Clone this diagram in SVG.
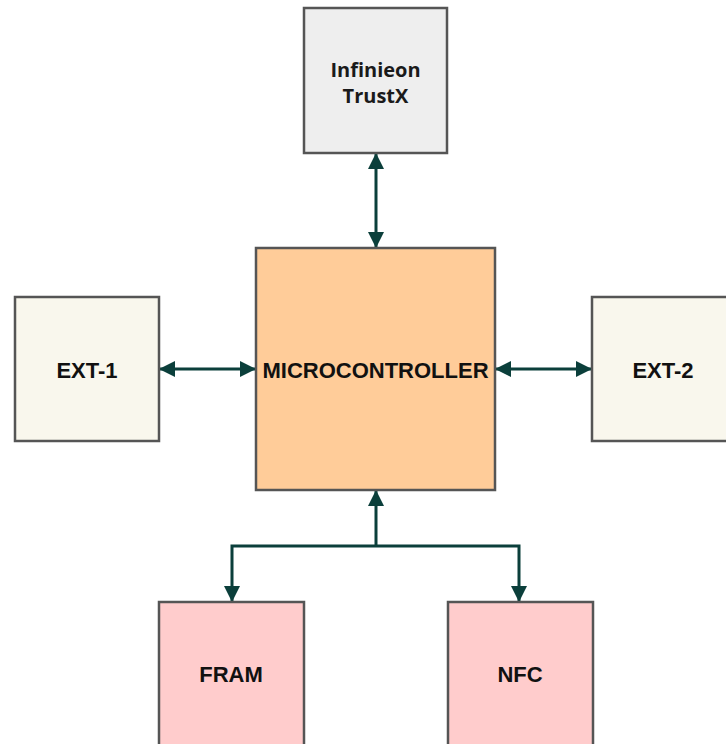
<svg xmlns="http://www.w3.org/2000/svg" width="726" height="744" viewBox="0 0 726 744">
  <style>
    .box { stroke: #555555; stroke-width: 2.5; }
    .lbl { font-family: "Liberation Sans", Arial, sans-serif; font-weight: bold; font-size: 22px; fill: #111111; text-anchor: middle; }
    .lbl2 { font-family: "Open Sans", "Liberation Sans", sans-serif; font-weight: 700; font-size: 20px; fill: #1a1a1a; text-anchor: middle; }
    .wire { fill: none; stroke: #0b3f3b; stroke-width: 3; }
  </style>
  <defs>
    <marker id="head" viewBox="0 0 16 16" refX="15" refY="8" markerWidth="16" markerHeight="16" markerUnits="userSpaceOnUse" orient="auto-start-reverse">
      <path d="M0,0 L16,8 L0,16 Z" fill="#0b3f3b"/>
    </marker>
  </defs>

  <rect width="726" height="744" fill="#ffffff"/>

  <g id="connectors">
    <line class="wire" x1="376" y1="154" x2="376" y2="247" marker-start="url(#head)" marker-end="url(#head)"/>
    <line class="wire" x1="160" y1="369" x2="255" y2="369" marker-start="url(#head)" marker-end="url(#head)"/>
    <line class="wire" x1="496" y1="369" x2="591" y2="369" marker-start="url(#head)" marker-end="url(#head)"/>
    <line class="wire" x1="376" y1="546" x2="376" y2="491" marker-end="url(#head)"/>
    <polyline class="wire" points="376,546 232,546 232,601" marker-end="url(#head)"/>
    <polyline class="wire" points="376,546 519,546 519,601" marker-end="url(#head)"/>
  </g>

  <g id="trustx">
    <rect class="box" x="304" y="8" width="143" height="145" fill="#eeeeee"/>
    <text class="lbl2" x="375.5" y="77">Infinieon</text>
    <text class="lbl2" x="375.5" y="103">TrustX</text>
  </g>

  <g id="mcu">
    <rect class="box" x="256" y="248" width="239" height="242" fill="#ffcc99"/>
    <text class="lbl" x="375.5" y="378">MICROCONTROLLER</text>
  </g>

  <g id="ext1">
    <rect class="box" x="15" y="297" width="144" height="144" fill="#f9f7ed"/>
    <text class="lbl" x="87" y="378">EXT-1</text>
  </g>

  <g id="ext2">
    <rect class="box" x="592" y="297" width="144" height="144" fill="#f9f7ed"/>
    <text class="lbl" x="663" y="378">EXT-2</text>
  </g>

  <g id="fram">
    <rect class="box" x="159" y="602" width="145" height="150" fill="#ffcccc"/>
    <text class="lbl" x="231" y="682">FRAM</text>
  </g>

  <g id="nfc">
    <rect class="box" x="448" y="602" width="145" height="150" fill="#ffcccc"/>
    <text class="lbl" x="520" y="682">NFC</text>
  </g>
</svg>
